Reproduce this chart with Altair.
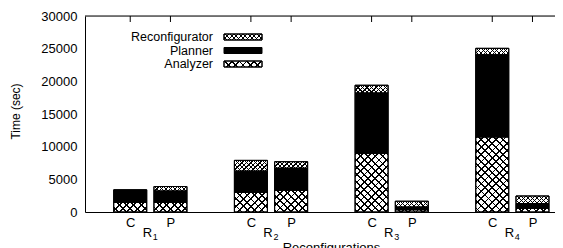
import math
import altair as alt
import pandas as pd

# ---------------- data ----------------
groups = ["R1", "R2", "R3", "R4"]
group_nums = ["1", "2", "3", "4"]
configs = ["C", "P"]
series = ["Analyzer", "Planner", "Reconfigurator"]
analyzer = [1500, 1500, 3000, 3300, 8950, 350, 11500, 550]
planner = [1900, 1700, 3250, 3400, 9250, 400, 12550, 750]
reconf = [0, 700, 1650, 1000, 1200, 900, 1000, 1150]
y_ticks = [0, 5000, 10000, 15000, 20000, 25000, 30000]

# ---------------- layout / style ----------------
SLOT = 41.1
W, H = 470, 196
XDOM = [-1, W / SLOT - 1]
YMAX = 30000
BAR = 33
FONT = "Liberation Sans"
FS = 13

rows = []
for i in range(len(analyzer)):
    g, c = i // 2, i % 2
    slot = 3 * g + c
    base = 0
    for s, vals in zip(series, [analyzer, planner, reconf]):
        v = vals[i]
        rows.append(dict(slot=slot, series=s, y0=base, y1=base + v, cfg=configs[c], group=groups[g]))
        base += v
df = pd.DataFrame(rows)
df = df[df.y1 > df.y0].reset_index(drop=True)
slots = sorted(df.slot.unique().tolist())

gdf = pd.DataFrame({"group": groups, "num": group_nums,
                    "center": [3 * g + 0.5 for g in range(len(groups))]})

xs = alt.Scale(domain=XDOM, nice=False, zero=False)
ys = alt.Scale(domain=[0, YMAX], nice=False)

AX_X = alt.Axis(values=slots, labelExpr="datum.value % 3 == 0 ? 'C' : 'P'",
                title="Reconfigurations", titleX=246, titleY=39, titleBaseline="alphabetic",
                titleAlign="center",
                ticks=False, grid=False, domainColor="black", labelColor="black",
                labelFontSize=FS, titleFontSize=FS, titleFontWeight="normal",
                labelPadding=4, labelFont=FONT, titleFont=FONT, titleColor="black")
AX_Y = alt.Axis(values=y_ticks, title="Time (sec)", ticks=False, grid=False,
                domainColor="black", labelColor="black", labelFontSize=FS,
                titleFontSize=12, titleFontWeight="normal", labelPadding=8,
                titleX=-70, titleY=H / 2 - 3, titleAngle=-90, titleAlign="center",
                titleBaseline="middle", labelFont=FONT, titleFont=FONT,
                titleColor="black", format="d")

HATCH = {"Analyzer": (5.2, 1.3), "Reconfigurator": (3.2, 0.85)}


def stripes(w, h, period, lw, flip):
    D = (w + h) / math.sqrt(2)
    stops = []
    k = 0
    while k * period < D:
        a = k * period / D
        b = min((k * period + lw) / D, 1)
        stops += [{"offset": a, "color": "rgba(0,0,0,0)"},
                  {"offset": a, "color": "black"},
                  {"offset": b, "color": "black"},
                  {"offset": b, "color": "rgba(0,0,0,0)"}]
        k += 1
    stops.append({"offset": 1, "color": "rgba(0,0,0,0)"})
    s = (w + h) / (w * w + h * h)
    p, q = s * w, s * h
    if flip:
        return {"gradient": "linear", "x1": 1, "y1": 0, "x2": 1 - p, "y2": q, "stops": stops}
    return {"gradient": "linear", "x1": 0, "y1": 0, "x2": p, "y2": q, "stops": stops}


def enc_bar(ch):
    return ch.encode(x=alt.X("slot:Q", scale=xs, axis=AX_X),
                     y=alt.Y("y0:Q", scale=ys, axis=AX_Y), y2="y1:Q")


# base layer with axes
base = enc_bar(alt.Chart(df).mark_bar(size=BAR, stroke="black", strokeWidth=1)).encode(
    fill=alt.condition(alt.datum.series == "Planner", alt.value("black"), alt.value("white")),
)

layers = [base]
for _, r in df.iterrows():
    if r.series not in HATCH:
        continue
    h = (r.y1 - r.y0) / YMAX * H
    per, lw = HATCH[r.series]
    one = pd.DataFrame([r.to_dict()])
    for flip in (False, True):
        layers.append(enc_bar(alt.Chart(one).mark_bar(
            size=BAR, fill=stripes(BAR, h, per, lw, flip), strokeWidth=0)))

# outlines on top
layers.append(enc_bar(alt.Chart(df).mark_bar(size=BAR, fill="transparent", stroke="black",
                                             strokeWidth=1)))

# top border and mirrored ticks
layers.append(alt.Chart(pd.DataFrame({"a": [0]})).mark_rule(color="black", strokeWidth=1).encode(
    x=alt.value(0), x2=alt.value(W), y=alt.value(0)))
layers.append(alt.Chart(pd.DataFrame({"slot": slots})).mark_rule(color="black", strokeWidth=1).encode(
    x=alt.X("slot:Q", scale=xs, axis=AX_X), y=alt.value(0), y2=alt.value(6)))

# group labels R_n
layers.append(alt.Chart(gdf).mark_text(text="R", fontSize=FS, font=FONT, color="black",
                                       align="center", baseline="alphabetic", dx=-3).encode(
    x=alt.X("center:Q", scale=xs, axis=AX_X), y=alt.value(H + 25)))
layers.append(alt.Chart(gdf).mark_text(fontSize=9, font=FONT, color="black",
                                       align="center", baseline="alphabetic", dx=5).encode(
    x=alt.X("center:Q", scale=xs, axis=AX_X), y=alt.value(H + 28), text="num:N"))

# legend
LX_TEXT, LX0, LX1 = 128, 139, 177
leg_rows = [("Reconfigurator", 21), ("Planner", 34.5), ("Analyzer", 48)]
for name, yy in leg_rows:
    t = pd.DataFrame({"label": [name]})
    layers.append(alt.Chart(t).mark_text(fontSize=12.5, font=FONT, color="black", align="right",
                                         baseline="middle").encode(
        x=alt.value(LX_TEXT), y=alt.value(yy), text="label:N"))
    fillc = "black" if name == "Planner" else "white"
    layers.append(alt.Chart(t).mark_rect(fill=fillc, stroke="black", strokeWidth=1).encode(
        x=alt.value(LX0), x2=alt.value(LX1), y=alt.value(yy - 3), y2=alt.value(yy + 3)))
    if name in HATCH:
        per, lw = HATCH[name]
        for flip in (False, True):
            layers.append(alt.Chart(t).mark_rect(fill=stripes(LX1 - LX0, 6, per, lw, flip),
                                                 strokeWidth=0).encode(
                x=alt.value(LX0), x2=alt.value(LX1), y=alt.value(yy - 3), y2=alt.value(yy + 3)))
        layers.append(alt.Chart(t).mark_rect(fill="transparent", stroke="black", strokeWidth=1).encode(
            x=alt.value(LX0), x2=alt.value(LX1), y=alt.value(yy - 3), y2=alt.value(yy + 3)))

chart = alt.layer(*layers).properties(
    width=W, height=H,
    autosize=alt.AutoSizeParams(type="none"),
    padding={"left": 77, "top": 8, "right": 0, "bottom": 44},
).configure_view(stroke=None).configure(background="white")

chart.save("out.html", embed_options={"renderer": "svg", "actions": False})
